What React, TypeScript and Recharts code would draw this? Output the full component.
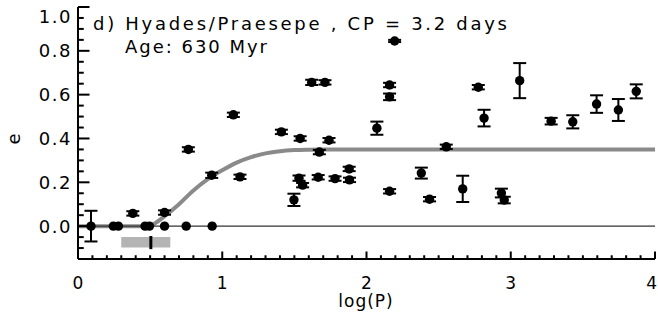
import React from 'react';
import {
  ComposedChart,
  Scatter,
  Line,
  XAxis,
  YAxis,
  ErrorBar,
  ReferenceLine,
  ReferenceArea,
  Customized,
} from 'recharts';

// ---- data ----
const logP = [0.09, 0.245, 0.28, 0.38, 0.465, 0.495, 0.6, 0.6, 0.75, 0.93,
  0.765, 0.927, 1.077, 1.123, 1.41, 1.497, 1.532, 1.54, 1.557, 1.62,
  1.665, 1.673, 1.712, 1.74, 1.782, 1.88, 1.882, 2.072, 2.16, 2.16,
  2.16, 2.195, 2.38, 2.437, 2.553, 2.667, 2.775, 2.815, 2.935, 2.955,
  3.062, 3.28, 3.43, 3.595, 3.746, 3.87];
const ecc = [0, 0, 0, 0.058, 0, 0, 0.062, 0, 0, 0,
  0.35, 0.232, 0.508, 0.225, 0.43, 0.12, 0.219, 0.40, 0.187, 0.656,
  0.223, 0.338, 0.656, 0.392, 0.217, 0.261, 0.211, 0.447, 0.644, 0.59,
  0.159, 0.845, 0.242, 0.123, 0.362, 0.17, 0.634, 0.493, 0.151, 0.119,
  0.664, 0.479, 0.476, 0.557, 0.53, 0.615];
const eccErr = [0.07, 0, 0, 0.01, 0, 0, 0.01, 0, 0, 0,
  0.01, 0.012, 0.01, 0.01, 0.01, 0.028, 0.012, 0.01, 0.01, 0.012,
  0.01, 0.01, 0.01, 0.01, 0.01, 0.01, 0.01, 0.03, 0.01, 0.015,
  0.01, 0.005, 0.025, 0.01, 0.01, 0.06, 0.01, 0.038, 0.02, 0.015,
  0.08, 0.015, 0.03, 0.04, 0.05, 0.032];

// circularization curve
const curveLogP = [0, 0.48, 0.52, 0.6, 0.7, 0.8, 0.9, 1.0, 1.1, 1.2, 1.3, 1.4, 1.5, 1.6, 1.7, 4.0];
const curveEcc = [0, 0, 0.008, 0.045, 0.1, 0.163, 0.215, 0.255, 0.29, 0.315, 0.332, 0.342, 0.347, 0.349, 0.35, 0.35];

const zeroLineLogP = [0, 4];
const zeroLineEcc = [0, 0];

const cpBandLogP = [0.30, 0.64];
const cpBandEcc = [-0.098, -0.05];
const cpLogP = 0.505;
const cpMarkEcc = [-0.105, -0.045];

const xTicks = [0, 0.1, 0.2, 0.3, 0.4, 0.5, 0.6, 0.7, 0.8, 0.9,
  1, 1.1, 1.2, 1.3, 1.4, 1.5, 1.6, 1.7, 1.8, 1.9,
  2, 2.1, 2.2, 2.3, 2.4, 2.5, 2.6, 2.7, 2.8, 2.9,
  3, 3.1, 3.2, 3.3, 3.4, 3.5, 3.6, 3.7, 3.8, 3.9, 4];
const yTicks = [-0.15, -0.1, -0.05, 0, 0.05, 0.1, 0.15, 0.2, 0.25, 0.3, 0.35, 0.4,
  0.45, 0.5, 0.55, 0.6, 0.65, 0.7, 0.75, 0.8, 0.85, 0.9, 0.95, 1.0];

const titleText = 'd) Hyades/Praesepe , CP = 3.2 days';
const ageText = 'Age: 630 Myr';
const xLabel = 'log(P)';
const yLabel = 'e';

// ---- derived tables ----
const points = logP.map((x, i) => ({ x, e: ecc[i], err: eccErr[i] }));
const pointsErr = points.filter((p) => p.err > 0);
const pointsNoErr = points.filter((p) => p.err === 0);
const curveData = curveLogP.map((x, i) => ({ x, e: curveEcc[i] }));
const zeroData = zeroLineLogP.map((x, i) => ({ x, e: zeroLineEcc[i] }));

const CHART_W = 658;
const FONT = '"DejaVu Sans", sans-serif';
const isMajorX = (v: number) => Math.abs(v - Math.round(v)) < 1e-6;
const isMajorY = (v: number) => Math.abs(v * 5 - Math.round(v * 5)) < 1e-6 && v > -1e-6;

const BottomTick = (props: any) => {
  const { x, y, payload } = props;
  const v = payload.value;
  const m = isMajorX(v);
  const atEdge = x + 6 > CHART_W;
  return (
    <g>
      <line x1={x} x2={x} y1={y} y2={y - (m ? 7.5 : 3.75)} stroke="#000" strokeWidth={2} />
      {m && (
        <text x={atEdge ? CHART_W - 1 : x} y={y + 29.5} textAnchor={atEdge ? 'end' : 'middle'}
          fontSize={17} fontFamily={FONT} fill="#000">
          {String(v)}
        </text>
      )}
    </g>
  );
};

const TopTick = (props: any) => {
  const { x, y, payload } = props;
  const m = isMajorX(payload.value);
  return <line x1={x} x2={x} y1={y} y2={y + (m ? 7.5 : 3.75)} stroke="#000" strokeWidth={2} />;
};

const LeftTick = (props: any) => {
  const { x, y, payload } = props;
  const v = payload.value;
  const m = isMajorY(v);
  const top = v > 0.99;
  return (
    <g>
      <line x1={x} x2={x + (m ? 11.5 : 5.75)} y1={y} y2={y} stroke="#000" strokeWidth={2} />
      {m && (
        <text x={x - 6} y={top ? y + 15.5 : y + 6.5} textAnchor="end" fontSize={18}
          fontFamily={FONT} fill="#000" letterSpacing={1.5}>
          {v.toFixed(1)}
        </text>
      )}
    </g>
  );
};

const RightTick = (props: any) => {
  const { x, y, payload } = props;
  const m = isMajorY(payload.value);
  return <line x1={x} x2={x - (m ? 11.5 : 5.75)} y1={y} y2={y} stroke="#000" strokeWidth={2} />;
};

const Dot = (props: any) => {
  const { cx, cy } = props;
  return <circle cx={cx} cy={cy} r={4.7} fill="#000" />;
};

const Annotations = () => (
  <g fontFamily={FONT} fill="#000">
    <text x={93} y={29.5} fontSize={18} textLength={414} lengthAdjust="spacing">{titleText}</text>
    <text x={125} y={53} fontSize={18} textLength={142} lengthAdjust="spacing">{ageText}</text>
    <text x={366} y={307} fontSize={17} textAnchor="middle" letterSpacing={1}>{xLabel}</text>
    <text x={20} y={139} fontSize={18} textAnchor="middle" transform="rotate(-90 20 139)">{yLabel}</text>
  </g>
);

export default function App() {
  const axisLine = { stroke: '#000', strokeWidth: 2 };
  return (
    <div style={{ width: 658, height: 322, background: '#fff' }}>
      <style>{'body{margin:0;background:#fff}'}</style>
      <ComposedChart width={CHART_W} height={322} margin={{ top: 7, right: 3, left: 0, bottom: 0 }}>
        <XAxis xAxisId={0} dataKey="x" type="number" domain={[0, 4]} ticks={xTicks} interval={0}
          allowDataOverflow height={63} tickSize={0} tickMargin={0} tickLine={false}
          axisLine={axisLine} tick={<BottomTick />} />
        <XAxis xAxisId="top" orientation="top" dataKey="x" type="number" domain={[0, 4]} ticks={xTicks}
          interval={0} allowDataOverflow height={0} tickSize={0} tickMargin={0} tickLine={false}
          axisLine={axisLine} tick={<TopTick />} />
        <YAxis yAxisId={0} dataKey="e" type="number" domain={[-0.15, 1.0]} ticks={yTicks} interval={0}
          allowDataOverflow width={78} tickSize={0} tickMargin={0} tickLine={false}
          axisLine={axisLine} tick={<LeftTick />} />
        <YAxis yAxisId="right" orientation="right" dataKey="e" type="number" domain={[-0.15, 1.0]}
          ticks={yTicks} interval={0} allowDataOverflow width={0} tickSize={0} tickMargin={0}
          tickLine={false} axisLine={axisLine} tick={<RightTick />} />

        <Line data={curveData} dataKey="e" type="monotone" stroke="#8a8a8a" strokeWidth={4}
          dot={false} activeDot={false} isAnimationActive={false} />
        <Line data={zeroData} dataKey="e" type="linear" stroke="#333" strokeWidth={1.2}
          dot={false} activeDot={false} isAnimationActive={false} />

        <ReferenceArea x1={cpBandLogP[0]} x2={cpBandLogP[1]} y1={cpBandEcc[0]} y2={cpBandEcc[1]}
          fill="#b4b4b4" fillOpacity={1} stroke="none" />
        <ReferenceLine segment={[{ x: cpLogP, y: cpMarkEcc[0] }, { x: cpLogP, y: cpMarkEcc[1] }]}
          stroke="#000" strokeWidth={3} />

        <Scatter data={pointsNoErr} dataKey="e" shape={<Dot />} isAnimationActive={false} />
        <Scatter data={pointsErr} dataKey="e" shape={<Dot />} isAnimationActive={false}>
          <ErrorBar dataKey="err" direction="y" width={6.5} stroke="#000" strokeWidth={2}
            isAnimationActive={false} />
        </Scatter>

        <Customized component={<Annotations />} />
      </ComposedChart>
    </div>
  );
}
